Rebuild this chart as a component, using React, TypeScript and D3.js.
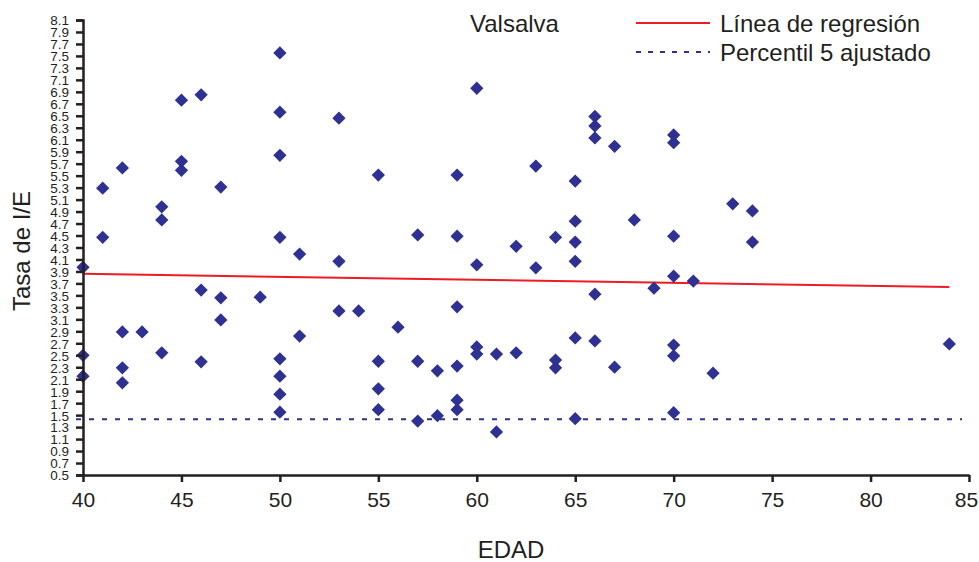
import * as d3 from "d3";
import React, { useEffect, useRef } from "react";

// edad / tasa I/E pairs
const EDAD = [
  40, 40, 40, 41, 41, 42, 42, 42, 42, 43, 44, 44, 44, 45, 45, 45, 46, 46, 46, 47, 47, 47,
  49, 50, 50, 50, 50, 50, 50, 50, 50, 51, 51, 53, 53, 53, 54, 55, 55, 55, 55, 56, 57, 57,
  57, 58, 58, 59, 59, 59, 59, 59, 59, 60, 60, 60, 60, 61, 61, 62, 62, 63, 63, 64, 64, 64,
  65, 65, 65, 65, 65, 65, 66, 66, 66, 66, 66, 67, 67, 68, 69, 70, 70, 70, 70, 70, 70, 70,
  71, 72, 73, 74, 74, 84,
];
const TASA = [
  3.97, 2.5, 2.15, 5.29, 4.47, 5.63, 2.89, 2.29, 2.04, 2.89, 4.98, 4.76, 2.54, 6.76, 5.74,
  5.59, 6.85, 3.59, 2.39, 5.31, 3.46, 3.09, 3.47, 7.55, 6.56, 5.84, 4.47, 2.44, 2.15, 1.85,
  1.55, 4.19, 2.82, 6.46, 4.07, 3.24, 3.24, 5.51, 2.4, 1.94, 1.59, 2.97, 4.51, 2.4, 1.4,
  2.24, 1.49, 5.51, 4.49, 3.31, 2.32, 1.75, 1.59, 6.96, 4.01, 2.64, 2.52, 2.52, 1.22, 4.32,
  2.54, 3.96, 5.66, 4.47, 2.42, 2.29, 5.41, 4.74, 4.39, 4.07, 2.79, 1.44, 6.49, 6.33, 6.13,
  3.52, 2.74, 5.99, 2.3, 4.76, 3.62, 6.18, 6.05, 4.49, 3.82, 2.67, 2.49, 1.54, 3.74, 2.2,
  5.03, 4.91, 4.39, 2.69,
];
const REGRESION = [
  [40, 3.86],
  [84, 3.64],
];
const PERCENTIL5 = 1.43;
const X_TICKS = [40, 45, 50, 55, 60, 65, 70, 75, 80, 85];
const Y_TICKS = d3.range(0, 39).map((i) => +(0.5 + i * 0.2).toFixed(1));

const W = 979;
const H = 562;
const BLUE = "#2E3192";
const RED = "#ED1C24";
const INK = "#231F20";
const FONT = "Liberation Sans, Arial, sans-serif";

function drawChart(el: SVGSVGElement) {
  const svg = d3.select(el);
  svg.selectAll("*").remove();

  const x = d3.scaleLinear().domain([40, 85]).range([83, 969]);
  const y = d3.scaleLinear().domain([0.5, 8.1]).range([475, 20]);

  // dashed percentile line
  svg
    .append("line")
    .attr("x1", 76)
    .attr("x2", 962)
    .attr("y1", y(PERCENTIL5))
    .attr("y2", y(PERCENTIL5))
    .attr("stroke", BLUE)
    .attr("stroke-width", 2)
    .attr("stroke-dasharray", "5,8");

  // regression line
  svg
    .append("path")
    .datum(REGRESION)
    .attr("fill", "none")
    .attr("stroke", RED)
    .attr("stroke-width", 2)
    .attr("d", d3.line<number[]>().x((d) => x(d[0])).y((d) => y(d[1])));

  // points
  const diamond = d3.symbol().type(d3.symbolDiamond2).size(112);
  svg
    .append("g")
    .selectAll("path")
    .data(EDAD.map((e, i) => [e, TASA[i]]))
    .join("path")
    .attr("d", diamond)
    .attr("fill", BLUE)
    .attr("transform", (d) => `translate(${x(d[0])},${y(d[1])})`);

  // y axis
  const yAxis = svg
    .append("g")
    .attr("transform", "translate(83,0)")
    .call(d3.axisLeft(y).tickValues(Y_TICKS).tickSize(7).tickPadding(7).tickFormat(d3.format(".1f")));
  yAxis.select(".domain").attr("stroke", INK).attr("stroke-width", 2.5);
  yAxis.selectAll(".tick line").attr("stroke", INK).attr("stroke-width", 2.5);
  yAxis
    .selectAll(".tick text")
    .attr("fill", INK)
    .attr("dy", "0.36em")
    .style("font-family", FONT)
    .style("font-size", "13.5px");

  // x axis
  const xAxis = svg
    .append("g")
    .attr("transform", "translate(0,475)")
    .call(d3.axisBottom(x).tickValues(X_TICKS).tickSize(7).tickPadding(10).tickSizeOuter(0));
  xAxis.select(".domain").attr("stroke", INK).attr("stroke-width", 2.5);
  xAxis.selectAll(".tick line").attr("stroke", INK).attr("stroke-width", 2.5);
  xAxis
    .selectAll(".tick text")
    .attr("fill", INK)
    .style("font-family", FONT)
    .style("font-size", "21px");
  // last label sits right on the edge
  xAxis.selectAll<SVGTextElement, number>(".tick text").filter((d) => d === 85).attr("dx", "-3");

  const label = (t: string, px: number, py: number, anchor = "start") =>
    svg
      .append("text")
      .attr("x", px)
      .attr("y", py)
      .attr("text-anchor", anchor)
      .attr("fill", INK)
      .style("font-family", FONT)
      .style("font-size", "24px")
      .text(t);

  label("EDAD", 511, 558, "middle");
  label("Tasa de I/E", 0, 0, "middle").attr("transform", "translate(30,251) rotate(-90)");

  // legend
  label("Valsalva", 470, 32);
  svg.append("line").attr("x1", 636).attr("x2", 710).attr("y1", 23).attr("y2", 23)
    .attr("stroke", RED).attr("stroke-width", 2);
  label("Línea de regresión", 720, 32);
  svg.append("line").attr("x1", 636).attr("x2", 710).attr("y1", 52).attr("y2", 52)
    .attr("stroke", BLUE).attr("stroke-width", 2).attr("stroke-dasharray", "5,7");
  label("Percentil 5 ajustado", 720, 61);
}

export default function App() {
  const ref = useRef<SVGSVGElement>(null);
  useEffect(() => {
    if (ref.current) drawChart(ref.current);
  }, []);
  return (
    <svg
      ref={ref}
      width={W}
      height={H}
      style={{ position: "fixed", top: 0, left: 0, background: "#fff" }}
    />
  );
}
